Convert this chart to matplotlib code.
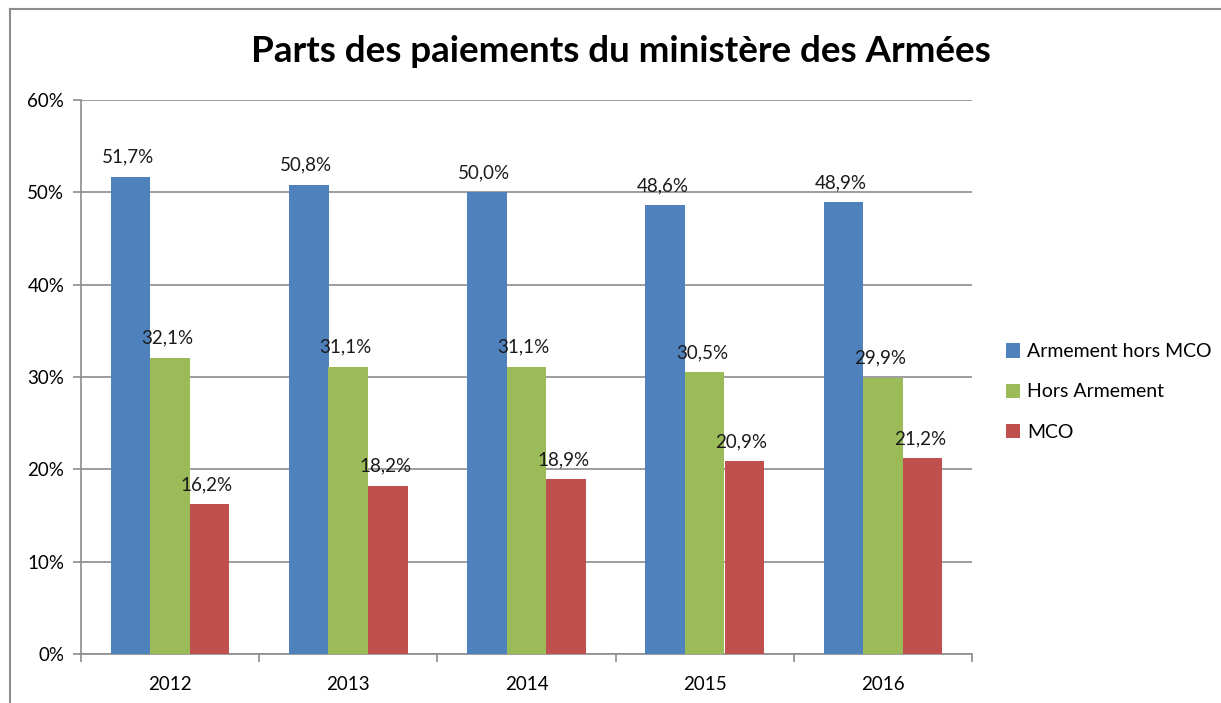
import numpy as np
import matplotlib
matplotlib.use("Agg")
import matplotlib.pyplot as plt
from matplotlib.lines import Line2D
from matplotlib.patches import Patch

years = ["2012", "2013", "2014", "2015", "2016"]
armement = [51.7, 50.8, 50.0, 48.6, 48.9]
hors_armement = [32.1, 31.1, 31.1, 30.5, 29.9]
mco = [16.2, 18.2, 18.9, 20.9, 21.2]
series_names = ["Armement hors MCO", "Hors Armement", "MCO"]
colors = ["#4F81BD", "#9BBB59", "#C0504D"]

plt.rcParams['font.family'] = ['Lato', 'DejaVu Sans']

fig = plt.figure(figsize=(12.21, 7.03), dpi=100)
W, H = 1221., 703.

# outer chart frame (partially visible)
fig.add_artist(Line2D([10/W, 10/W], [0, 1 - 9/H], color="#8c8c8c", lw=1.5))
fig.add_artist(Line2D([10/W, 1], [1 - 9/H, 1 - 9/H], color="#8c8c8c", lw=1.5))

ax = fig.add_axes([81/W, 1 - 654/H, (972 - 81)/W, (654 - 100)/H])

x = np.arange(len(years))
bw = 1 / 4.5
for i, (vals, c) in enumerate(zip([armement, hors_armement, mco], colors)):
    pos = x + (i - 1) * bw
    ax.bar(pos, vals, width=bw, color=c, zorder=3)
    for p, v in zip(pos, vals):
        ax.annotate(("%.1f%%" % v).replace(".", ","), (p, v), xytext=(-2, 8),
                    textcoords="offset points", ha="center", va="bottom",
                    fontsize=13.5, color="#1a1a1a")

ax.set_xlim(-0.5, len(years) - 0.5)
ax.set_ylim(0, 60)
ax.set_yticks(np.arange(0, 61, 10))
ax.set_yticklabels(["%d%%" % t for t in range(0, 61, 10)], fontsize=13.5)
ax.yaxis.grid(True, color="#8c8c8c", lw=1.2, zorder=0)
ax.set_xticks(x)
ax.set_xticklabels(years, fontsize=13.5)
ax.set_xticks(np.arange(-0.5, len(years)), minor=True)
ax.tick_params(axis="x", which="major", length=0, pad=16)
ax.tick_params(axis="x", which="minor", length=6, color="#8c8c8c", width=1.2)
ax.tick_params(axis="y", length=6, color="#8c8c8c", width=1.2, pad=6)
for s in ["top", "right"]:
    ax.spines[s].set_visible(False)
for s in ["left", "bottom"]:
    ax.spines[s].set_color("#8c8c8c")
    ax.spines[s].set_linewidth(1.2)

fig.text(621/W, 1 - 51/H, "Parts des paiements du ministère des Armées",
         ha="center", va="center", fontsize=26.5, fontweight="bold")

handles = [Patch(facecolor=c) for c in colors]
fig.legend(handles, series_names, loc="center left", bbox_to_anchor=(988/W, 1 - 392/H),
           frameon=False, fontsize=14, handlelength=0.75, handleheight=0.75,
           labelspacing=1.2, handletextpad=0.35)

fig.savefig("out.png", dpi=100)
